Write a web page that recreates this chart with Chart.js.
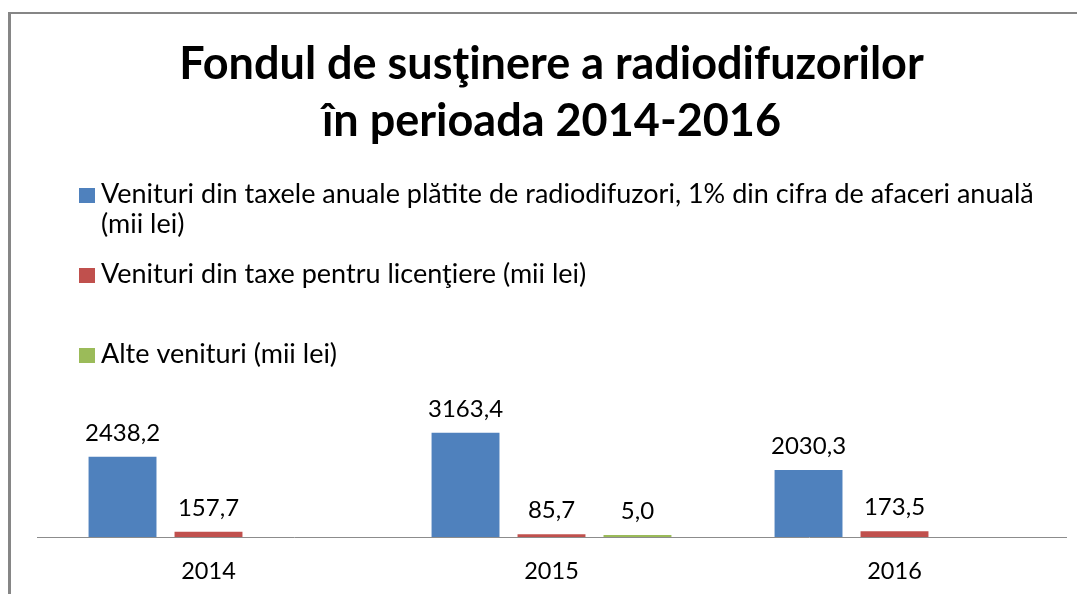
<!DOCTYPE html>
<html><head><meta charset="utf-8">
<script src="https://cdn.jsdelivr.net/npm/chart.js@4"></script>
<style>html,body{margin:0;padding:0;background:#fff}#wrap{width:1077px;height:594px}</style>
</head><body><div id="wrap"><canvas id="c" width="1077" height="594"></canvas></div>
<script>
const categories = ['2014', '2015', '2016'];
const seriesNames = [
  'Venituri din taxele anuale plătite de radiodifuzori, 1% din cifra de afaceri anuală (mii lei)',
  'Venituri din taxe pentru licenţiere (mii lei)',
  'Alte venituri (mii lei)'
];
const taxeAnuale = [2438.2, 3163.4, 2030.3];
const taxeLicentiere = [157.7, 85.7, 173.5];
const alteVenituri = [null, 5.0, null];
const titleLines = ['Fondul de susţinere a radiodifuzorilor', 'în perioada 2014-2016'];
const colors = ['#4F81BD', '#C0504D', '#9BBB59'];

const FONT = 'Lato';

const borderPlugin = {
  id: 'frame',
  beforeDraw(chart) {
    const ctx = chart.ctx;
    ctx.save();
    ctx.fillStyle = '#ffffff';
    ctx.fillRect(0, 0, chart.width, chart.height);
    ctx.fillStyle = '#868686';
    ctx.fillRect(8, 12, chart.width, 2);
    ctx.fillRect(8, 12, 3, chart.height);
    ctx.restore();
  }
};

const legendPlugin = {
  id: 'sideLegend',
  afterDraw(chart) {
    const ctx = chart.ctx;
    const boxX = 79, textX = 101, firstBase = 203, step = 80, lineH = 30;
    ctx.save();
    ctx.font = '27px ' + FONT;
    ctx.textBaseline = 'alphabetic';
    ctx.textAlign = 'left';
    const maxW = chart.width - 30 - textX;
    chart.data.datasets.forEach((ds, i) => {
      const y = firstBase + i * step;
      ctx.fillStyle = ds.backgroundColor;
      ctx.fillRect(boxX, y - 15, 16, 15);
      const words = ds.label.split(' ');
      const lines = [];
      let cur = '';
      words.forEach(w => {
        const t = cur ? cur + ' ' + w : w;
        if (ctx.measureText(t).width > maxW && cur) { lines.push(cur); cur = w; }
        else cur = t;
      });
      if (cur) lines.push(cur);
      ctx.fillStyle = '#000';
      lines.forEach((l, k) => ctx.fillText(l, textX, y + k * lineH));
    });
    ctx.restore();
  }
};

const valuePlugin = {
  id: 'values',
  afterDatasetsDraw(chart) {
    const ctx = chart.ctx;
    ctx.save();
    ctx.font = '24px ' + FONT;
    ctx.fillStyle = '#000';
    ctx.textAlign = 'center';
    ctx.textBaseline = 'alphabetic';
    chart.data.datasets.forEach((ds, i) => {
      const meta = chart.getDatasetMeta(i);
      meta.data.forEach((el, j) => {
        const v = ds.data[j];
        if (v === null || v === undefined) return;
        ctx.fillText(v.toFixed(1).replace('.', ','), el.x, el.y - 16);
      });
    });
    ctx.restore();
  }
};

new Chart(document.getElementById('c'), {
  type: 'bar',
  data: {
    labels: categories,
    datasets: [
      { label: seriesNames[0], data: taxeAnuale, backgroundColor: colors[0] },
      { label: seriesNames[1], data: taxeLicentiere, backgroundColor: colors[1] },
      { label: seriesNames[2], data: alteVenituri, backgroundColor: colors[2] }
    ]
  },
  options: {
    responsive: false,
    animation: false,
    layout: { padding: { left: 37, right: 11, top: 0, bottom: 9 } },
    datasets: { bar: { categoryPercentage: 0.752, barPercentage: 0.79, minBarLength: 2 } },
    plugins: {
      legend: { display: false },
      tooltip: { enabled: false },
      title: {
        display: true,
        text: titleLines,
        color: '#000',
        font: { family: FONT, weight: 'bold', size: 45, lineHeight: 1.27 },
        padding: { top: 36, bottom: 222 }
      }
    },
    scales: {
      x: {
        grid: { display: false, drawTicks: false },
        border: { display: true, color: '#8c8c8c', width: 1 },
        ticks: { font: { family: FONT, size: 23.5 }, color: '#000', padding: 20 },
        afterFit(scale) { scale.height = 48; }
      },
      y: { display: false, min: 0, max: 5000 }
    }
  },
  plugins: [borderPlugin, legendPlugin, valuePlugin]
});
</script>
</body></html>
